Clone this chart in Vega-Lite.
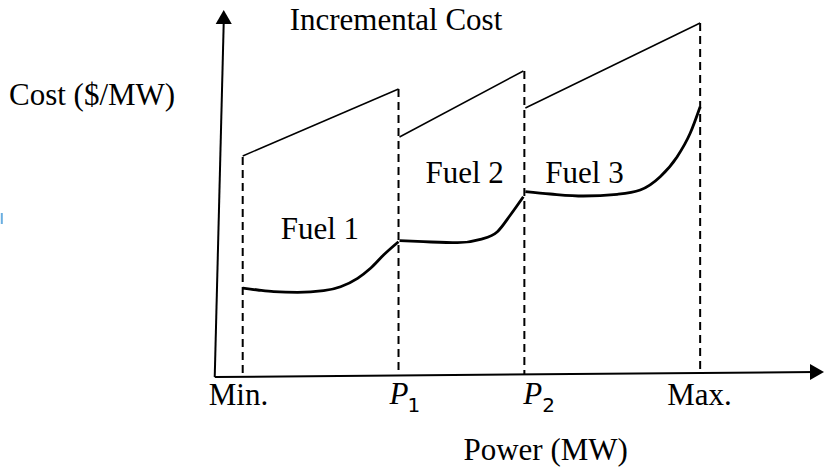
{
  "$schema": "https://vega.github.io/schema/vega-lite/v6.json",
  "width": 824,
  "height": 468,
  "autosize": {"type": "fit", "contains": "padding"},
  "padding": 0,
  "background": "white",
  "config": {"view": {"stroke": null}, "axis": {"disable": true}},
  "datasets": {
    "axes": [
      {"x": 214, "y": 377, "x2": 223, "y2": 22},
      {"x": 214, "y": 377, "x2": 816, "y2": 372}
    ],
    "arrows": [
      {"x": 223, "y": 17, "dir": "up"},
      {"x": 817, "y": 372, "dir": "right"}
    ],
    "blue": [{"x": 0.8, "y": 213, "x2": 0.8, "y2": 224}],
    "upper": [
      {"x": 242, "y": 156, "x2": 398, "y2": 89},
      {"x": 399, "y": 137, "x2": 523, "y2": 71},
      {"x": 525, "y": 108, "x2": 700, "y2": 23}
    ],
    "dashed": [
      {"x": 242, "y": 157, "x2": 242, "y2": 376},
      {"x": 398, "y": 89, "x2": 398, "y2": 376},
      {"x": 524, "y": 71, "x2": 524, "y2": 374},
      {"x": 700, "y": 23, "x2": 700, "y2": 373}
    ],
    "curves": [
      {"seg": "Fuel 1", "o": 1, "x": 242, "y": 288},
      {"seg": "Fuel 1", "o": 2, "x": 257, "y": 290},
      {"seg": "Fuel 1", "o": 3, "x": 273, "y": 291.7},
      {"seg": "Fuel 1", "o": 4, "x": 297, "y": 292.3},
      {"seg": "Fuel 1", "o": 5, "x": 323, "y": 290.7},
      {"seg": "Fuel 1", "o": 6, "x": 340, "y": 286.7},
      {"seg": "Fuel 1", "o": 7, "x": 357, "y": 278.3},
      {"seg": "Fuel 1", "o": 8, "x": 370, "y": 268.3},
      {"seg": "Fuel 1", "o": 9, "x": 383, "y": 255},
      {"seg": "Fuel 1", "o": 10, "x": 398, "y": 241.7},
      {"seg": "Fuel 2", "o": 1, "x": 399, "y": 240.7},
      {"seg": "Fuel 2", "o": 2, "x": 423, "y": 241.7},
      {"seg": "Fuel 2", "o": 3, "x": 457, "y": 242.7},
      {"seg": "Fuel 2", "o": 4, "x": 480, "y": 239.3},
      {"seg": "Fuel 2", "o": 5, "x": 497, "y": 231.7},
      {"seg": "Fuel 2", "o": 6, "x": 510, "y": 215},
      {"seg": "Fuel 2", "o": 7, "x": 523, "y": 196.7},
      {"seg": "Fuel 3", "o": 1, "x": 525, "y": 191.7},
      {"seg": "Fuel 3", "o": 2, "x": 550, "y": 194},
      {"seg": "Fuel 3", "o": 3, "x": 583, "y": 196},
      {"seg": "Fuel 3", "o": 4, "x": 617, "y": 194.3},
      {"seg": "Fuel 3", "o": 5, "x": 640, "y": 190},
      {"seg": "Fuel 3", "o": 6, "x": 660, "y": 176.7},
      {"seg": "Fuel 3", "o": 7, "x": 677, "y": 156.7},
      {"seg": "Fuel 3", "o": 8, "x": 690, "y": 133.3},
      {"seg": "Fuel 3", "o": 9, "x": 700, "y": 106.7}
    ],
    "labels": [
      {"t": "Incremental Cost", "x": 289, "y": 30},
      {"t": "Cost ($/MW)", "x": 8, "y": 105},
      {"t": "Fuel 1", "x": 280, "y": 239},
      {"t": "Fuel 2", "x": 425, "y": 183},
      {"t": "Fuel 3", "x": 545, "y": 183},
      {"t": "Min.", "x": 208, "y": 405},
      {"t": "Max.", "x": 667, "y": 405},
      {"t": "Power (MW)", "x": 463, "y": 460}
    ],
    "pLabels": [
      {"t": "P", "x": 389, "y": 404},
      {"t": "P", "x": 523, "y": 404}
    ],
    "subs": [
      {"t": "1", "x": 407, "y": 412},
      {"t": "2", "x": 542, "y": 412}
    ]
  },
  "layer": [
    {
      "data": {"name": "blue"},
      "mark": {"type": "rule", "stroke": "#6aaee0", "strokeWidth": 2},
      "encoding": {
        "x": {"field": "x", "type": "quantitative", "scale": {"domain": [0, 824], "nice": false, "zero": false}, "axis": null},
        "y": {"field": "y", "type": "quantitative", "scale": {"domain": [0, 468], "reverse": true, "nice": false, "zero": false}, "axis": null},
        "x2": {"field": "x2"},
        "y2": {"field": "y2"}
      }
    },
    {
      "data": {"name": "dashed"},
      "mark": {"type": "rule", "stroke": "black", "strokeWidth": 2, "strokeDash": [8, 5]},
      "encoding": {
        "x": {"field": "x", "type": "quantitative"},
        "y": {"field": "y", "type": "quantitative"},
        "x2": {"field": "x2"},
        "y2": {"field": "y2"}
      }
    },
    {
      "data": {"name": "upper"},
      "mark": {"type": "rule", "stroke": "black", "strokeWidth": 1.5},
      "encoding": {
        "x": {"field": "x", "type": "quantitative"},
        "y": {"field": "y", "type": "quantitative"},
        "x2": {"field": "x2"},
        "y2": {"field": "y2"}
      }
    },
    {
      "data": {"name": "axes"},
      "mark": {"type": "rule", "stroke": "black", "strokeWidth": 2},
      "encoding": {
        "x": {"field": "x", "type": "quantitative"},
        "y": {"field": "y", "type": "quantitative"},
        "x2": {"field": "x2"},
        "y2": {"field": "y2"}
      }
    },
    {
      "data": {"name": "arrows"},
      "mark": {"type": "point", "filled": true, "color": "black", "opacity": 1, "size": 260},
      "encoding": {
        "x": {"field": "x", "type": "quantitative"},
        "y": {"field": "y", "type": "quantitative"},
        "shape": {"field": "dir", "type": "nominal", "scale": {"domain": ["up", "right"], "range": ["triangle-up", "triangle-right"]}, "legend": null}
      }
    },
    {
      "data": {"name": "curves"},
      "mark": {"type": "line", "stroke": "black", "strokeWidth": 2.8, "interpolate": "monotone"},
      "encoding": {
        "x": {"field": "x", "type": "quantitative"},
        "y": {"field": "y", "type": "quantitative"},
        "detail": {"field": "seg"},
        "order": {"field": "o", "type": "quantitative"}
      }
    },
    {
      "data": {"name": "labels"},
      "mark": {"type": "text", "font": "Liberation Serif", "fontSize": 31, "align": "left", "baseline": "alphabetic", "color": "black"},
      "encoding": {
        "x": {"field": "x", "type": "quantitative"},
        "y": {"field": "y", "type": "quantitative"},
        "text": {"field": "t"}
      }
    },
    {
      "data": {"name": "pLabels"},
      "mark": {"type": "text", "font": "Liberation Serif", "fontStyle": "italic", "fontSize": 31, "align": "left", "baseline": "alphabetic", "color": "black"},
      "encoding": {
        "x": {"field": "x", "type": "quantitative"},
        "y": {"field": "y", "type": "quantitative"},
        "text": {"field": "t"}
      }
    },
    {
      "data": {"name": "subs"},
      "mark": {"type": "text", "font": "DejaVu Sans", "fontSize": 20, "align": "left", "baseline": "alphabetic", "color": "black"},
      "encoding": {
        "x": {"field": "x", "type": "quantitative"},
        "y": {"field": "y", "type": "quantitative"},
        "text": {"field": "t"}
      }
    }
  ]
}
